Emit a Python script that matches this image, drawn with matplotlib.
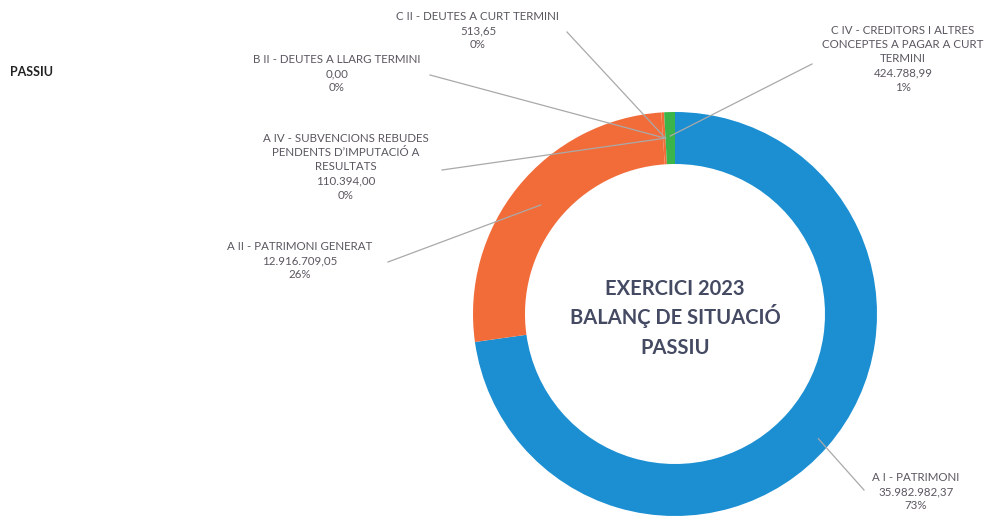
import numpy as np
import matplotlib
matplotlib.use('Agg')
from matplotlib import pyplot as plt

plt.rcParams['font.family'] = ['Lato', 'DejaVu Sans']

# balance sheet data (liabilities side)
names = ['A I - PATRIMONI',
         'A II - PATRIMONI GENERAT',
         'A IV - SUBVENCIONS REBUDES\nPENDENTS D\u2019IMPUTACIÓ A\nRESULTATS',
         'B II - DEUTES A LLARG TERMINI',
         'C II - DEUTES A CURT TERMINI',
         'C IV - CREDITORS I ALTRES\nCONCEPTES A PAGAR A CURT\nTERMINI']
values = [35982982.37, 12916709.05, 110394.00, 0.00, 513.65, 424788.99]
colors = ['#1b8fd2', '#f26c3a', '#f26c3a', '#f26c3a', '#f26c3a', '#3bb54a']
center_lines = ['EXERCICI 2023', 'BALANÇ DE SITUACIÓ', 'PASSIU']

# label layout in pixels from top-left: text centre x, text top y,
# start of leader line, radius where the leader meets the ring
label_x = [916, 300, 346, 337, 478, 903]
label_y = [472, 241, 133, 54, 11, 25]
line_start = [(864, 490), (388, 262), (442, 170), (430, 75), (567, 32), (812, 64)]
line_r = [190, 173, 176, 176, 176, 178]

W, H = 984, 516
CX, CY = 675, 314
R, RING = 202, 52


def fmt(v):
    s = f'{v:,.2f}'
    return s.replace(',', 'X').replace('.', ',').replace('X', '.')


def py(y):
    # pixel-from-top to data y
    return H - y


fig = plt.figure(figsize=(W / 100, H / 100), dpi=100)
ax = fig.add_axes([0, 0, 1, 1])

wedges, _ = ax.pie(values, colors=colors, startangle=90, counterclock=False,
                   center=(CX, py(CY)), radius=R, frame=True,
                   wedgeprops=dict(width=RING, linewidth=0))
ax.set_xlim(0, W)
ax.set_ylim(0, H)
ax.set_aspect('equal')
ax.axis('off')

total = sum(values)
text_color = '#5b5660'
for i, w in enumerate(wedges):
    mid = np.radians((w.theta1 + w.theta2) / 2)
    ex = CX + line_r[i] * np.cos(mid)
    ey = py(CY) + line_r[i] * np.sin(mid)
    sx, sy = line_start[i]
    ax.plot([sx, ex], [py(sy), ey], color='#a9a9a9', lw=0.9, zorder=3)
    pct = round(values[i] / total * 100)
    txt = names[i] + '\n' + fmt(values[i]) + '\n' + f'{pct}%'
    ax.text(label_x[i], py(label_y[i]), txt, ha='center', va='top',
            multialignment='center', fontsize=8.3, linespacing=1.36,
            color=text_color)

# centre title, one line at a time on fixed baselines
for j, line in enumerate(center_lines):
    ax.text(CX, py(295 + 29.5 * j), line, ha='center', va='baseline',
            fontsize=14.5, fontweight='bold', color='#454a63')

ax.text(10, py(72), 'PASSIU', ha='left', va='center', fontsize=9,
        fontweight='bold', color='#222222')

fig.savefig('out.png', dpi=100)
